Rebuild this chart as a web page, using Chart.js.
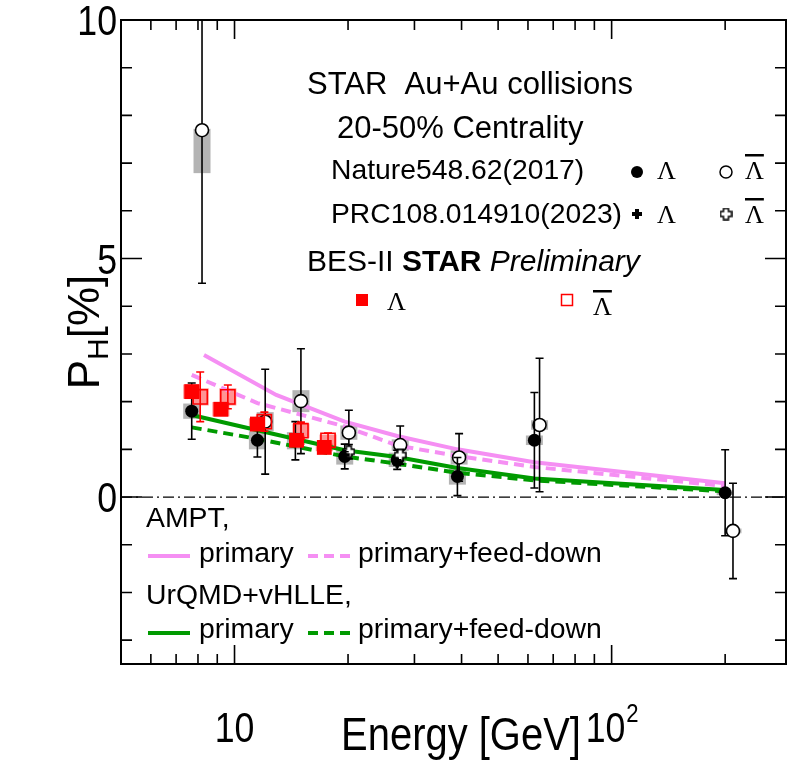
<!DOCTYPE html>
<html>
<head>
<meta charset="utf-8">
<style>
  html, body { margin: 0; padding: 0; background: #fff; }
  #wrap { width: 787px; height: 760px; position: relative; }
</style>
<script src="https://cdn.jsdelivr.net/npm/chart.js@4.4.0/dist/chart.umd.min.js"></script>
</head>
<body>
<div id="wrap"><canvas id="chart"></canvas></div>
<script>
"use strict";

// ---- axes -----------------------------------------------------------------
const X_RANGE = [5, 290];
const Y_RANGE = [-3.5, 10];
const X_TICK_TEXT = { 10: ["10", ""], 100: ["10", "2"] };   // [base, superscript]
const Y_TICK_TEXT = { 0: "0", 5: "5", 10: "10" };

// ---- Nature 548, 62 (2017) ------------------------------------------------
const NAT_L_E    = [7.7, 11.5, 14.5, 19.6, 27, 39, 62.4, 200];
const NAT_L_P    = [1.80, 1.19, 1.18, 0.85, 0.78, 0.43, 1.19, 0.09];
const NAT_L_ERR  = [0.59, 0.35, 0.40, 0.26, 0.20, 0.40, 1.00, 0.90];
const NAT_L_SYS  = [0.16, 0.19, 0.18, 0.17, 0.15, 0.17, 0.10, 0.05];
// anti-Lambda is plotted slightly right of the Lambda point
const NAT_AL_E   = [8.2, 12.06, 15.0, 20.1, 27.5, 39.4, 64.4, 209.8];
const NAT_AL_P   = [7.69, 1.58, 2.01, 1.35, 1.09, 0.83, 1.51, -0.71];
const NAT_AL_ERR = [3.21, 1.10, 1.10, 0.47, 0.40, 0.50, 1.40, 1.00];
const NAT_AL_SYS_LO = [0.90, 0.20, 0.23, 0.15, 0.12, 0.15, 0.10, 0.05];
const NAT_AL_SYS_HI = [0.03, 0.20, 0.23, 0.15, 0.12, 0.15, 0.10, 0.05];

// ---- PRC 108, 014910 (2023) -----------------------------------------------
const PRC_L_E    = [19.6, 27];
const PRC_L_P    = [0.88, 0.72];
const PRC_L_ERR  = [0.07, 0.06];
const PRC_AL_E   = [20.1, 27.5];
const PRC_AL_P   = [0.95, 0.88];
const PRC_AL_ERR = [0.15, 0.12];

// ---- BES-II STAR Preliminary ----------------------------------------------
const BES_L_E    = [7.7, 9.2, 11.5, 14.6, 17.3];
const BES_L_P    = [2.21, 1.84, 1.53, 1.19, 1.04];
const BES_L_ERR  = [0.10, 0.08, 0.07, 0.06, 0.06];
const BES_L_SYS  = [0.15, 0.15, 0.12, 0.10, 0.08];
const BES_AL_E   = [8.11, 9.6, 12.0, 15.0, 17.7];
const BES_AL_P   = [2.10, 2.10, 1.58, 1.39, 1.19];
const BES_AL_ERR = [0.52, 0.25, 0.20, 0.18, 0.15];
const BES_AL_SYS = [0.18, 0.18, 0.15, 0.15, 0.12];

// ---- model curves ---------------------------------------------------------
const AMPT_PRIM_E = [8.3, 12.9, 19.6, 27, 39, 62.4, 200];
const AMPT_PRIM_P = [2.98, 2.14, 1.58, 1.28, 1.00, 0.73, 0.29];
const AMPT_FD_E   = [7.7, 11.5, 19.6, 27, 39, 62.4, 200];
const AMPT_FD_P   = [2.56, 1.97, 1.48, 1.08, 0.86, 0.63, 0.23];
const URQMD_PRIM_E = [7.7, 11.5, 19.6, 27, 39, 62.4, 200];
const URQMD_PRIM_P = [1.72, 1.40, 0.98, 0.84, 0.61, 0.39, 0.15];
const URQMD_FD_E   = [7.7, 11.5, 19.6, 27, 39, 62.4, 200];
const URQMD_FD_P   = [1.46, 1.22, 0.85, 0.70, 0.51, 0.35, 0.12];

const PINK = "#f58ff3";
const GREEN = "#009a00";
const RED = "#ff0000";
const SANS = "'Liberation Sans', Arial, sans-serif";
const SERIF = "'Liberation Serif', 'Times New Roman', serif";
const SQUEEZE = 0.85;   // axis lettering in the figure is condensed

const $ = (id) => document.getElementById(id);
const pts = (xs, ys) => xs.map((x, i) => ({ x, y: ys[i] }));

// outlined "+" used for the PRC anti-Lambda points
function openCross(size, arm) {
  const c = document.createElement("canvas");
  c.width = c.height = size;
  const g = c.getContext("2d");
  const m = size / 2, a = arm / 2, e = size - 1;
  g.beginPath();
  g.moveTo(m - a, 1); g.lineTo(m + a, 1); g.lineTo(m + a, m - a); g.lineTo(e, m - a);
  g.lineTo(e, m + a); g.lineTo(m + a, m + a); g.lineTo(m + a, e); g.lineTo(m - a, e);
  g.lineTo(m - a, m + a); g.lineTo(1, m + a); g.lineTo(1, m - a); g.lineTo(m - a, m - a);
  g.closePath();
  g.fillStyle = "#fff"; g.fill();
  g.lineWidth = 1.5; g.strokeStyle = "#000"; g.stroke();
  return c;
}
const OPEN_CROSS = openCross(13, 5);

// condensed text: x is the anchor, y the baseline
function narrow(ctx, text, x, y, size, align) {
  ctx.save();
  ctx.translate(x, y);
  ctx.scale(SQUEEZE, 1);
  ctx.font = `${size}px ${SANS}`;
  ctx.textAlign = align;
  ctx.textBaseline = "alphabetic";
  ctx.fillText(text, 0, 0);
  ctx.restore();
}
function narrowWidth(ctx, text, size) {
  ctx.font = `${size}px ${SANS}`;
  return ctx.measureText(text).width * SQUEEZE;
}

// systematic boxes (behind everything) + statistical error bars (under each marker set)
const errorBars = {
  id: "errorBars",
  beforeDatasetsDraw(chart) {
    const { ctx, chartArea: a, scales: { x, y } } = chart;
    ctx.save();
    ctx.beginPath(); ctx.rect(a.left, a.top, a.right - a.left, a.bottom - a.top); ctx.clip();
    chart.data.datasets.forEach((ds) => {
      if (!ds.sysLo) return;
      ctx.fillStyle = ds.sysColor;
      ds.data.forEach((p, j) => {
        const px = x.getPixelForValue(p.x);
        const t = y.getPixelForValue(p.y + ds.sysHi[j]);
        const b = y.getPixelForValue(p.y - ds.sysLo[j]);
        ctx.fillRect(px - 8.5, t, 17, b - t);
      });
    });
    // dash-dot zero line
    const y0 = y.getPixelForValue(0);
    ctx.strokeStyle = "#000"; ctx.lineWidth = 1.3; ctx.setLineDash([11, 4, 2, 4]);
    ctx.beginPath(); ctx.moveTo(a.left, y0); ctx.lineTo(a.right, y0); ctx.stroke();
    ctx.restore();
  },
  beforeDatasetDraw(chart, args) {
    const ds = chart.data.datasets[args.index];
    if (!ds.err) return;
    const { ctx, chartArea: a, scales: { x, y } } = chart;
    ctx.save();
    ctx.beginPath(); ctx.rect(a.left, a.top, a.right - a.left, a.bottom - a.top); ctx.clip();
    ctx.strokeStyle = ds.errColor; ctx.lineWidth = 1.6;
    ctx.beginPath();
    ds.data.forEach((p, j) => {
      const px = x.getPixelForValue(p.x);
      const t = y.getPixelForValue(p.y + ds.err[j]);
      const b = y.getPixelForValue(p.y - ds.err[j]);
      ctx.moveTo(px, t); ctx.lineTo(px, b);
      ctx.moveTo(px - 4, t); ctx.lineTo(px + 4, t);
      ctx.moveTo(px - 4, b); ctx.lineTo(px + 4, b);
    });
    ctx.stroke();
    ctx.restore();
  },
};

// frame with inward ticks on all four sides, plus the tick labels and x title
const frame = {
  id: "frame",
  afterDatasetsDraw(chart) {
    const { ctx, chartArea: { left, right, top, bottom }, scales: { x, y } } = chart;
    ctx.save();
    ctx.strokeStyle = "#000";
    ctx.fillStyle = "#000";
    ctx.lineWidth = 2;
    ctx.strokeRect(left, top, right - left, bottom - top);
    ctx.lineWidth = 1.6;
    ctx.beginPath();
    x.ticks.forEach((t) => {
      const dec = Math.pow(10, Math.floor(Math.log10(t.value) + 1e-9));
      const m = t.value / dec;
      if (Math.abs(m - Math.round(m)) > 1e-6) return;
      const len = Math.round(m) === 1 ? 19 : 10;
      const px = x.getPixelForValue(t.value);
      ctx.moveTo(px, bottom); ctx.lineTo(px, bottom - len);
      ctx.moveTo(px, top); ctx.lineTo(px, top + len);
    });
    y.ticks.forEach((t) => {
      if (!Number.isInteger(t.value)) return;
      const len = t.value % 5 === 0 ? 21 : 11;
      const py = y.getPixelForValue(t.value);
      ctx.moveTo(left, py); ctx.lineTo(left + len, py);
      ctx.moveTo(right, py); ctx.lineTo(right - len, py);
    });
    ctx.stroke();

    // tick labels
    const TS = 42;
    y.ticks.forEach((t) => {
      const s = Y_TICK_TEXT[t.value];
      if (s === undefined) return;
      narrow(ctx, s, left - 4, y.getPixelForValue(t.value) + TS * 0.358, TS, "right");
    });
    x.ticks.forEach((t) => {
      const s = X_TICK_TEXT[Math.round(t.value)];
      if (!s || Math.abs(t.value - Math.round(t.value)) > 1e-6) return;
      const wb = narrowWidth(ctx, s[0], TS);
      const ws = s[1] ? narrowWidth(ctx, s[1], 26) : 0;
      const x0 = x.getPixelForValue(t.value) - (wb + ws) / 2;
      narrow(ctx, s[0], x0, 742, TS, "left");
      if (s[1]) narrow(ctx, s[1], x0 + wb + 1, 722, 26, "left");
    });
    narrow(ctx, "Energy [GeV]", 461, 750, 47, "center");
    ctx.restore();
  },
};

function lambda(ctx, x, base, anti) {
  ctx.font = `26px ${SERIF}`;
  ctx.fillText("Λ", x, base);
  if (anti) {
    const w = ctx.measureText("Λ").width;
    ctx.fillRect(x, base - 25, w, 2.5);
  }
}

// texts, legend keys and the y title
const annotations = {
  id: "annotations",
  afterDraw(chart) {
    const ctx = chart.ctx;
    ctx.save();
    ctx.fillStyle = "#000";
    ctx.textBaseline = "alphabetic";
    ctx.textAlign = "left";

    ctx.font = `31px ${SANS}`;
    ctx.fillText("STAR  Au+Au collisions", 307, 94);
    ctx.fillText("20-50% Centrality", 337, 138);
    ctx.font = `28.3px ${SANS}`;
    ctx.fillText("Nature548.62(2017)", 331, 179);
    ctx.fillText("PRC108.014910(2023)", 331, 223);

    ctx.font = `30px ${SANS}`;
    let x0 = 307;
    ctx.fillText("BES-II ", x0, 271); x0 += ctx.measureText("BES-II ").width;
    ctx.font = `bold 30px ${SANS}`;
    ctx.fillText("STAR", x0, 271); x0 += ctx.measureText("STAR").width;
    ctx.font = `italic 30px ${SANS}`;
    ctx.fillText(" Preliminary", x0, 271);

    // marker keys
    ctx.beginPath(); ctx.arc(637, 172, 6, 0, 2 * Math.PI); ctx.fill();
    ctx.beginPath(); ctx.arc(726, 172, 6, 0, 2 * Math.PI);
    ctx.lineWidth = 1.5; ctx.strokeStyle = "#000"; ctx.stroke();
    ctx.fillRect(632, 212, 10, 4); ctx.fillRect(635, 209, 4, 10);
    ctx.drawImage(OPEN_CROSS, 726 - 6.5, 214 - 6.5);
    lambda(ctx, 657, 179, false);
    lambda(ctx, 745, 179, true);
    lambda(ctx, 657, 223, false);
    lambda(ctx, 745, 223, true);

    ctx.fillStyle = RED;
    ctx.fillRect(356, 294, 12, 12);
    ctx.strokeStyle = RED; ctx.lineWidth = 1.5;
    ctx.strokeRect(561.5, 294.5, 11, 11);
    ctx.fillStyle = "#000";
    lambda(ctx, 387, 310, false);
    lambda(ctx, 593, 315, true);

    // model legend
    ctx.font = `28.4px ${SANS}`;
    ctx.fillText("AMPT,", 146, 527);
    ctx.fillText("primary", 199, 562);
    ctx.fillText("primary+feed-down", 358, 562);
    ctx.fillText("UrQMD+vHLLE,", 146, 604);
    ctx.fillText("primary", 199, 638);
    ctx.fillText("primary+feed-down", 358, 638);
    [[PINK, 556], [GREEN, 633]].forEach(([col, yy]) => {
      ctx.strokeStyle = col; ctx.lineWidth = 4;
      ctx.setLineDash([]);
      ctx.beginPath(); ctx.moveTo(148, yy); ctx.lineTo(190, yy); ctx.stroke();
      ctx.setLineDash([10, 6]);
      ctx.beginPath(); ctx.moveTo(308, yy); ctx.lineTo(350, yy); ctx.stroke();
    });
    ctx.setLineDash([]);

    // y title P_H[%]
    ctx.translate(99, 332);
    ctx.rotate(-Math.PI / 2);
    ctx.fillStyle = "#000";
    ctx.font = `44px ${SANS}`;
    const wP = ctx.measureText("P").width;
    const wB = ctx.measureText("[%]").width;
    ctx.font = `30px ${SANS}`;
    const wH = ctx.measureText("H").width;
    let tx = -(wP + wH + wB) / 2;
    ctx.font = `44px ${SANS}`;
    ctx.fillText("P", tx, 0); tx += wP;
    ctx.font = `30px ${SANS}`;
    ctx.fillText("H", tx, 9); tx += wH;
    ctx.font = `44px ${SANS}`;
    ctx.fillText("[%]", tx, 0);
    ctx.restore();
  },
};

function markers(label, xs, ys, err, style) {
  return Object.assign({ label, data: pts(xs, ys), err, errColor: "#000", showLine: false }, style);
}

function curve(label, xs, ys, color, dashed) {
  return {
    label, data: pts(xs, ys), showLine: true, borderColor: color, borderWidth: 4,
    borderDash: dashed ? [10, 6] : [], pointRadius: 0, tension: 0, fill: false,
  };
}

// the axes are drawn by the frame plugin; keep their boxes at fixed sizes
function fixX(s) { s.height = 96; s.paddingLeft = 0; s.paddingRight = 0; }
function fixY(s) { s.width = 121; s.paddingTop = 0; s.paddingBottom = 0; }

function init() {
  const datasets = [
    markers("BES-II Λ", BES_L_E, BES_L_P, BES_L_ERR, {
      errColor: RED, sysLo: BES_L_SYS, sysHi: BES_L_SYS, sysColor: "rgba(255,0,0,0.42)",
      pointStyle: "rect", pointRadius: 10.5, backgroundColor: RED, borderColor: RED, borderWidth: 0,
    }),
    markers("BES-II anti-Λ", BES_AL_E, BES_AL_P, BES_AL_ERR, {
      errColor: RED, sysLo: BES_AL_SYS, sysHi: BES_AL_SYS, sysColor: "rgba(255,0,0,0.42)",
      pointStyle: "rect", pointRadius: 10, backgroundColor: "rgba(0,0,0,0)", borderColor: RED, borderWidth: 1.6,
    }),
    markers("PRC Λ", PRC_L_E, PRC_L_P, PRC_L_ERR, {
      pointStyle: "cross", pointRadius: 5, borderColor: "#000", borderWidth: 3.5,
    }),
    markers("PRC anti-Λ", PRC_AL_E, PRC_AL_P, PRC_AL_ERR, {
      pointStyle: OPEN_CROSS,
    }),
    markers("Nature Λ", NAT_L_E, NAT_L_P, NAT_L_ERR, {
      sysLo: NAT_L_SYS, sysHi: NAT_L_SYS, sysColor: "#b4b4b4",
      pointStyle: "circle", pointRadius: 6.5, backgroundColor: "#000", borderColor: "#000", borderWidth: 0,
    }),
    markers("Nature anti-Λ", NAT_AL_E, NAT_AL_P, NAT_AL_ERR, {
      sysLo: NAT_AL_SYS_LO, sysHi: NAT_AL_SYS_HI, sysColor: "#b4b4b4",
      pointStyle: "circle", pointRadius: 6.5, backgroundColor: "#fff", borderColor: "#000", borderWidth: 1.6,
    }),
    curve("AMPT primary", AMPT_PRIM_E, AMPT_PRIM_P, PINK, false),
    curve("AMPT primary+feed-down", AMPT_FD_E, AMPT_FD_P, PINK, true),
    curve("UrQMD+vHLLE primary", URQMD_PRIM_E, URQMD_PRIM_P, GREEN, false),
    curve("UrQMD+vHLLE primary+feed-down", URQMD_FD_E, URQMD_FD_P, GREEN, true),
  ];

  new Chart($("chart"), {
    type: "scatter",
    data: { datasets },
    plugins: [errorBars, frame, annotations],
    options: {
      responsive: true, maintainAspectRatio: false, animation: false,
      layout: { autoPadding: false, padding: { top: 20, right: 1, left: 0, bottom: 0 } },
      plugins: { legend: { display: false }, tooltip: { enabled: false } },
      scales: {
        x: {
          type: "logarithmic", min: X_RANGE[0], max: X_RANGE[1],
          afterFit: fixX,
          grid: { display: false, drawTicks: false }, border: { display: false },
          ticks: { display: false, autoSkip: false, maxRotation: 0, minRotation: 0 },
        },
        y: {
          type: "linear", min: Y_RANGE[0], max: Y_RANGE[1],
          afterFit: fixY,
          grid: { display: false, drawTicks: false }, border: { display: false },
          ticks: { display: false, stepSize: 1, autoSkip: false },
        },
      },
    },
  });
}

init();
</script>
</body>
</html>
